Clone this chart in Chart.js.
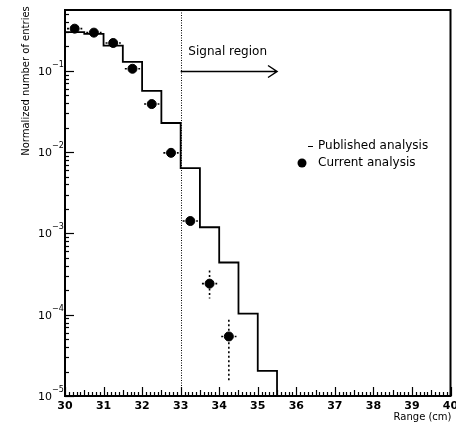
<!DOCTYPE html>
<html>
<head>
<meta charset="utf-8">
<script src="https://cdn.jsdelivr.net/npm/chart.js@4.4.0/dist/chart.umd.min.js"></script>
<style>
  html, body { margin: 0; padding: 0; background: #fff; }
</style>
</head>
<body>
<canvas id="range-chart" width="456" height="424"></canvas>
<script>
// published analysis histogram: bin edges (cm) and contents
const binEdges = [30, 30.5, 31, 31.5, 32, 32.5, 33, 33.5, 34, 34.5, 35, 35.5];
const publishedValues = [0.30, 0.284, 0.204, 0.129, 0.0566, 0.0228, 0.00634, 0.00119, 0.000439, 0.000103, 0.0000204];

// current analysis points with errors
const currentX = [30.25, 30.75, 31.25, 31.75, 32.25, 32.75, 33.25, 33.75, 34.25];
const currentY = [0.33, 0.295, 0.22, 0.106, 0.039, 0.0098, 0.00142, 0.000241, 0.000054];
const currentLow = [0.33, 0.295, 0.22, 0.106, 0.039, 0.0098, 0.00125, 0.000158, 0.0000153];
const currentHigh = [0.33, 0.295, 0.22, 0.106, 0.039, 0.0098, 0.0016, 0.000349, 0.0000867];
const xHalfWidth = 0.25;

const xTickLabels = ["30", "31", "32", "33", "34", "35", "36", "37", "38", "39", "40"];
const yDecades = [-5, -4, -3, -2, -1];

const signalStart = 33;

const FONT = "'DejaVu Sans', sans-serif";

// each edge carries the bin to its right; the closing edge drops to the floor
const histData = binEdges.map((e, i) => ({ x: e, y: i < publishedValues.length ? publishedValues[i] : 1e-7 }));
const pointData = currentX.map((x, i) => ({ x: x, y: currentY[i] }));

const decorations = {
  id: "decorations",
  beforeDatasetsDraw(chart) {
    const ctx = chart.ctx;
    const xs = chart.scales.x;
    const ys = chart.scales.y;
    const area = chart.chartArea;
    ctx.save();
    // signal region boundary
    ctx.strokeStyle = "#000";
    ctx.lineWidth = 1;
    ctx.setLineDash([1, 1.5]);
    const xs33 = Math.round(xs.getPixelForValue(signalStart)) + 0.5;
    ctx.beginPath();
    ctx.moveTo(xs33, area.top);
    ctx.lineTo(xs33, area.bottom);
    ctx.stroke();

    // error bars (dashed)
    ctx.lineWidth = 1.6;
    ctx.setLineDash([2, 2.5]);
    currentX.forEach((x, i) => {
      const px = xs.getPixelForValue(x);
      const py = ys.getPixelForValue(currentY[i]);
      ctx.beginPath();
      ctx.moveTo(xs.getPixelForValue(x - xHalfWidth) + 2, py);
      ctx.lineTo(xs.getPixelForValue(x + xHalfWidth) - 2, py);
      ctx.stroke();
      if (currentHigh[i] > currentLow[i]) {
        ctx.beginPath();
        ctx.moveTo(px, ys.getPixelForValue(currentHigh[i]));
        ctx.lineTo(px, ys.getPixelForValue(currentLow[i]));
        ctx.stroke();
      }
    });
    ctx.restore();
  },
  afterDraw(chart) {
    const ctx = chart.ctx;
    const xs = chart.scales.x;
    const ys = chart.scales.y;
    const a = chart.chartArea;
    ctx.save();
    ctx.strokeStyle = "#000";
    ctx.fillStyle = "#000";

    // frame
    ctx.lineWidth = 2;
    ctx.strokeRect(a.left, a.top, a.right - a.left, a.bottom - a.top);

    // x ticks (inward)
    ctx.lineWidth = 1.2;
    for (let k = 0; k <= 100; k++) {
      const v = 30 + k / 10;
      const px = Math.round(xs.getPixelForValue(v)) + 0.5;
      let len = 4;
      if (k % 10 === 0) len = 9;
      else if (k % 5 === 0) len = 6;
      ctx.beginPath();
      ctx.moveTo(px, a.bottom);
      ctx.lineTo(px, a.bottom - len);
      ctx.stroke();
    }
    // y ticks (inward)
    for (let d = -5; d <= -1; d++) {
      for (let m = 1; m <= 9; m++) {
        const v = m * Math.pow(10, d);
        if (v > ys.max) continue;
        const py = Math.round(ys.getPixelForValue(v)) + 0.5;
        const len = m === 1 ? 9 : 4;
        ctx.beginPath();
        ctx.moveTo(a.left, py);
        ctx.lineTo(a.left + len, py);
        ctx.stroke();
      }
    }

    // x tick labels
    ctx.font = "bold 11px " + FONT;
    ctx.textAlign = "center";
    ctx.textBaseline = "middle";
    xTickLabels.forEach((lab) => {
      ctx.fillText(lab, xs.getPixelForValue(Number(lab)), a.bottom + 10);
    });
    // y tick labels with exponent
    yDecades.forEach((d) => {
      const py = ys.getPixelForValue(Math.pow(10, d));
      ctx.font = "11px " + FONT;
      ctx.textAlign = "right";
      ctx.textBaseline = "middle";
      ctx.fillText("10", a.left - 13, py + 1);
      ctx.font = "8px " + FONT;
      ctx.textAlign = "left";
      ctx.fillText("\u2212" + Math.abs(d), a.left - 13, py - 6);
    });

    // axis titles
    ctx.font = "10px " + FONT;
    ctx.textAlign = "right";
    ctx.textBaseline = "middle";
    ctx.fillText("Range (cm)", a.right + 1, a.bottom + 21);
    ctx.save();
    ctx.translate(26, 81);
    ctx.rotate(-Math.PI / 2);
    ctx.textAlign = "center";
    ctx.font = "10px " + FONT;
    ctx.fillText("Normalized number of entries", 0, 0);
    ctx.restore();

    // signal region arrow
    const ax0 = xs.getPixelForValue(signalStart);
    const ax1 = xs.getPixelForValue(35.5);
    const ay = Math.round(ys.getPixelForValue(0.1)) + 0.5;
    ctx.lineWidth = 1.5;
    ctx.beginPath();
    ctx.moveTo(ax0, ay);
    ctx.lineTo(ax1, ay);
    ctx.moveTo(ax1 - 9, ay - 6);
    ctx.lineTo(ax1, ay);
    ctx.lineTo(ax1 - 9, ay + 6);
    ctx.stroke();
    ctx.font = "12px " + FONT;
    ctx.textAlign = "left";
    ctx.textBaseline = "alphabetic";
    ctx.fillText("Signal region", xs.getPixelForValue(33.2), ys.getPixelForValue(0.155));

    // legend
    ctx.font = "12px " + FONT;
    ctx.textBaseline = "middle";
    ctx.lineWidth = 1;
    ctx.beginPath();
    ctx.moveTo(308, 146.5);
    ctx.lineTo(313, 146.5);
    ctx.stroke();
    ctx.fillText("Published analysis", 318, 146);
    ctx.beginPath();
    ctx.arc(302, 163, 4.5, 0, Math.PI * 2);
    ctx.fill();
    ctx.fillText("Current analysis", 318, 163);
    ctx.restore();
  }
};

const chart = new Chart("range-chart", {
  type: "scatter",
  data: {
    datasets: [
      {
        label: "Current analysis",
        data: pointData,
        backgroundColor: "#000",
        borderColor: "#000",
        pointRadius: 4.5,
        pointHoverRadius: 4.5,
        showLine: false,
        order: 0,
      },
      {
        label: "Published analysis",
        data: histData,
        showLine: true,
        stepped: "before",
        borderColor: "#000",
        borderWidth: 1.8,
        pointRadius: 0,
        fill: false,
        order: 1,
      },
    ],
  },
  options: {
    responsive: false,
    animation: false,
    devicePixelRatio: 1,
    layout: { padding: { left: 65, right: 2, top: 10, bottom: 28 } },
    plugins: { legend: { display: false }, tooltip: { enabled: false } },
    scales: {
      x: { type: "linear", min: 30, max: 40, display: false },
      y: { type: "logarithmic", min: 1e-5, max: 0.56, display: false },
    },
  },
  plugins: [decorations],
});
</script>
</body>
</html>
